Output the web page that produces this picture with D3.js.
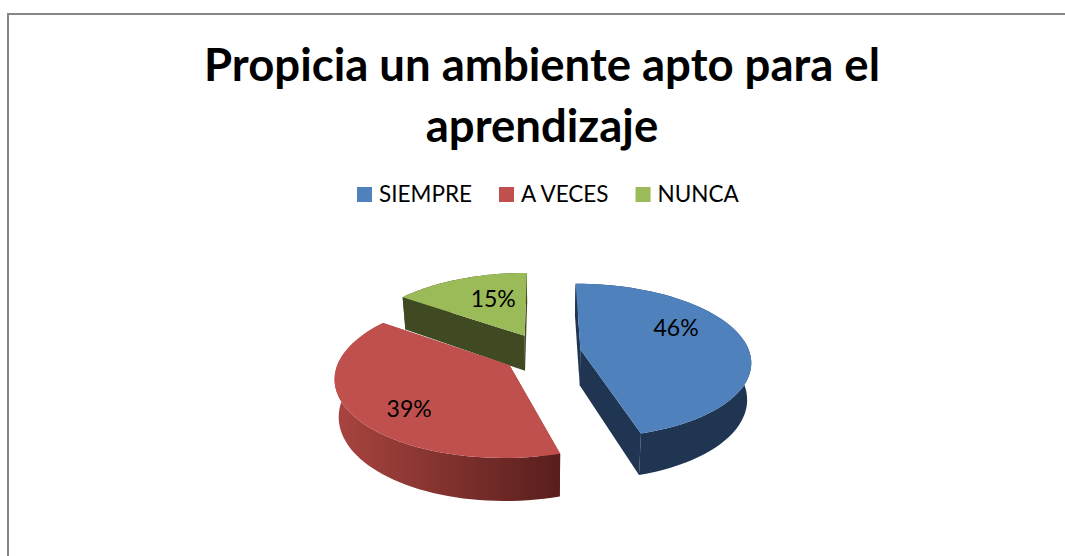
<!DOCTYPE html>
<html>
<head>
<meta charset="utf-8">
<script src="https://cdnjs.cloudflare.com/ajax/libs/d3/7.8.5/d3.min.js"></script>
<style>
  html, body { margin: 0; padding: 0; background: #fff; }
  svg { display: block; }
  text { font-family: Lato, "Open Sans", sans-serif; fill: #000; }
</style>
</head>
<body>
<div id="chart"></div>
<script>
var titleLines = ["Propicia un ambiente apto para el", "aprendizaje"];
var categories = ["SIEMPRE", "A VECES", "NUNCA"];
var values = [45.5, 39.4, 15.1];
var percentLabels = ["46%", "39%", "15%"];

var width = 1065, height = 556;
var colors = ["#4f81bd", "#c0504d", "#9bbb59"];
var sideColors = ["#1f3552", "url(#redSide)", "#3f4a23"];

// pie geometry, fitted by eye to the 3d perspective
var cx = 542, cy = 349, radius = 169, explode = 39;
var tilt = 0.45, depth = 36, camera = 1175;
var yNudge = [3, 6, 2];
// where each label sits, relative to its own slice: angle in degrees, share of radius
var labelAngle = [64, 226, 339], labelRadius = [0.67, 0.73, 0.6];

var svg = d3.select("#chart").append("svg")
    .attr("width", width)
    .attr("height", height);

var gradient = svg.append("defs").append("linearGradient")
    .attr("id", "redSide")
    .attr("gradientUnits", "userSpaceOnUse")
    .attr("x1", 338).attr("x2", 558)
    .attr("y1", 0).attr("y2", 0);
gradient.append("stop").attr("offset", "0%").attr("stop-color", "#a8443f");
gradient.append("stop").attr("offset", "100%").attr("stop-color", "#591f1d");

// chart frame, only top and left edges are in the crop
svg.append("path")
    .attr("d", d3.line()([[8, height], [8, 14], [width, 14]]))
    .attr("fill", "none")
    .attr("stroke", "#868686")
    .attr("stroke-width", 2);

svg.selectAll(".title").data(titleLines).enter().append("text")
    .attr("class", "title")
    .attr("x", 542)
    .attr("y", function(d, i) { return 81 + i * 61; })
    .attr("text-anchor", "middle")
    .attr("font-size", 45.5)
    .attr("font-weight", "bold")
    .text(function(d) { return d; });

// legend, laid out left to right from measured text
var legendX = 357;
categories.forEach(function(name, i) {
  svg.append("rect")
      .attr("x", legendX).attr("y", 187)
      .attr("width", 15).attr("height", 15)
      .attr("fill", colors[i]);
  var label = svg.append("text")
      .attr("x", legendX + 22).attr("y", 202)
      .attr("font-size", 22.5)
      .text(name);
  legendX += 22 + label.node().getComputedTextLength() + 27;
});

var pie = d3.pie().sort(null)(values);

function project(X, Y, z, i) {
  var s = camera / (camera - Y);
  var shrink = 1 - z * 0.00055; // the base sits further from the eye
  return [cx + X * s * shrink, cy + yNudge[i] + (Y * tilt + z) * s];
}

function offset(d) {
  var mid = (d.startAngle + d.endAngle) / 2;
  return [Math.sin(mid) * explode, -Math.cos(mid) * explode];
}

function rim(a, off, z, i) {
  return project(off[0] + Math.sin(a) * radius, off[1] - Math.cos(a) * radius, z, i);
}

var line = d3.line();

// painter's order: back slice first
[2, 0, 1].forEach(function(i) {
  var d = pie[i], off = offset(d);
  var angles = d3.range(0, 61).map(function(k) {
    return d.startAngle + (d.endAngle - d.startAngle) * k / 60;
  });
  var apexTop = project(off[0], off[1], 0, i);
  var apexBottom = project(off[0], off[1], depth, i);
  var g = svg.append("g").attr("class", "slice");

  // radial walls
  [d.startAngle, d.endAngle].forEach(function(a) {
    g.append("path")
        .attr("d", line([apexTop, rim(a, off, 0, i), rim(a, off, depth, i), apexBottom]) + "Z")
        .attr("fill", i == 1 ? "#8a3532" : sideColors[i]);
  });

  // outer wall
  var top = angles.map(function(a) { return rim(a, off, 0, i); });
  var bottom = angles.map(function(a) { return rim(a, off, depth, i); }).reverse();
  g.append("path")
      .attr("d", line(top.concat(bottom)) + "Z")
      .attr("fill", sideColors[i]);

  // top face
  g.append("path")
      .attr("d", line([apexTop].concat(top)) + "Z")
      .attr("fill", colors[i]);
});

pie.forEach(function(d, i) {
  var off = offset(d), a = labelAngle[i] * Math.PI / 180;
  var p = project(off[0] + Math.sin(a) * radius * labelRadius[i],
                  off[1] - Math.cos(a) * radius * labelRadius[i], 0, i);
  svg.append("text")
      .attr("x", p[0]).attr("y", p[1])
      .attr("dy", "0.35em")
      .attr("text-anchor", "middle")
      .attr("font-size", 23)
      .text(percentLabels[i]);
});
</script>
</body>
</html>
